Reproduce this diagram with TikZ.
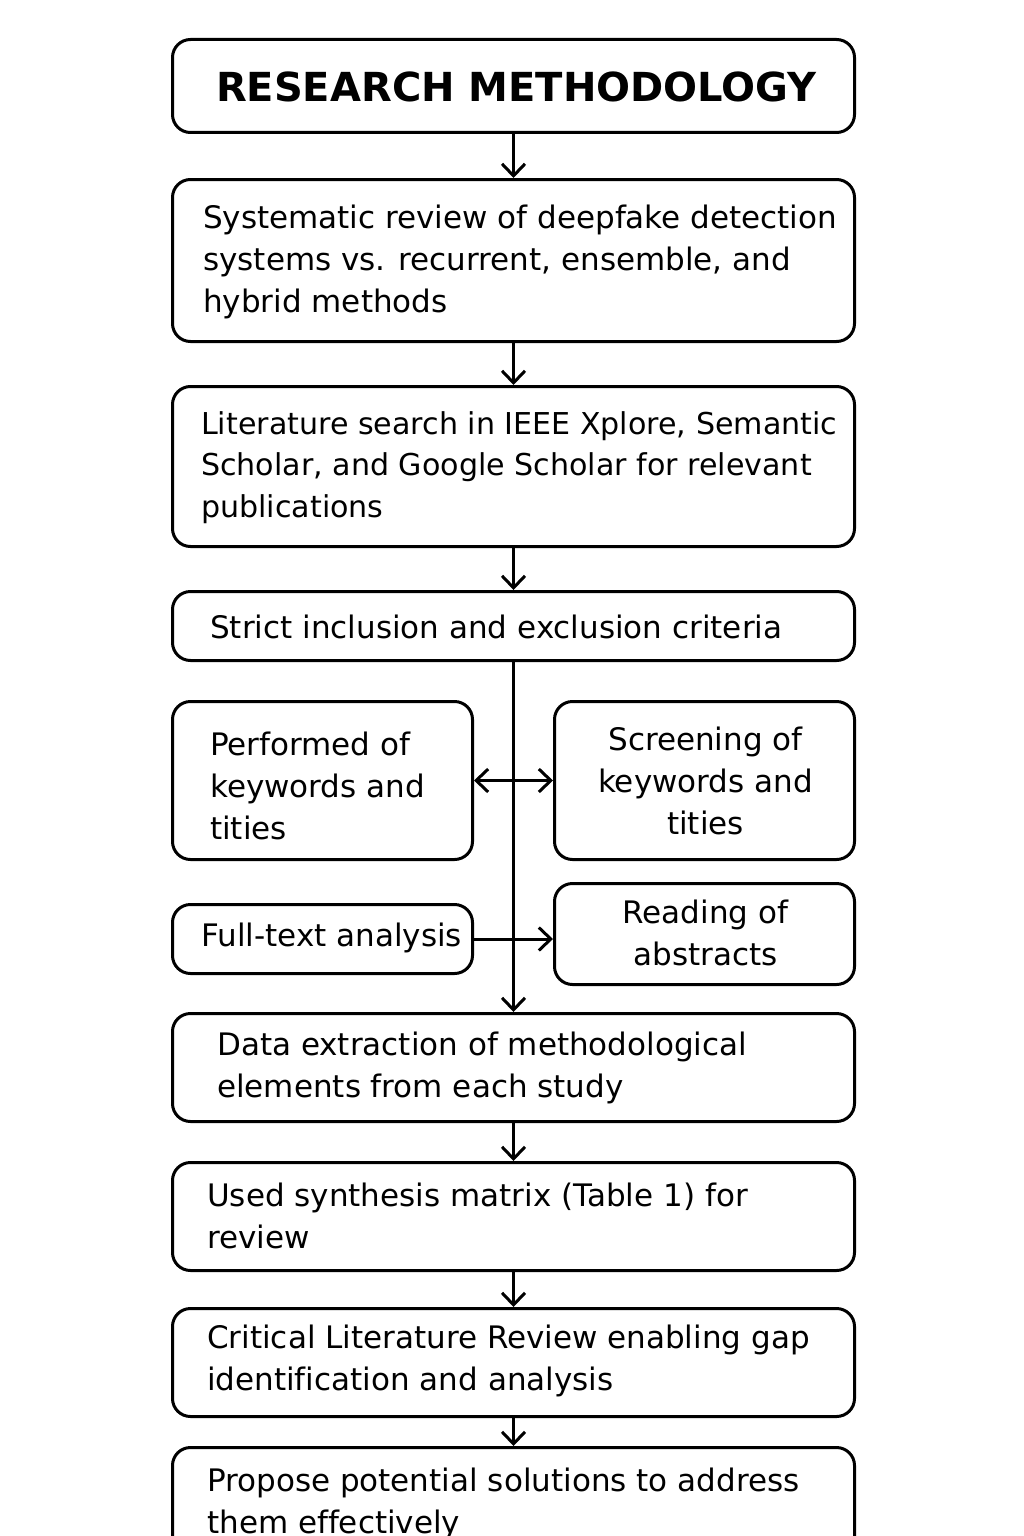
\documentclass[tikz,border=0pt]{standalone}
\usepackage{fontspec}
\setmainfont{DejaVu Sans}[Ligatures=NoCommon]
\usetikzlibrary{arrows.meta}
\begin{document}
\begin{tikzpicture}[x=1pt,y=-1pt,
  box/.style={draw=black, line width=3pt, rounded corners=18pt, inner sep=0pt, anchor=north west},
  txt/.style={inner sep=0pt, font=\fontsize{31}{42}\selectfont, align=left, text=black},
  ctxt/.style={inner sep=0pt, font=\fontsize{31}{42}\selectfont, align=center, text=black},
  arr/.style={line width=3pt, -{Straight Barb[length=12pt,width=23pt,line width=3pt]}},
  darr/.style={line width=3pt, {Straight Barb[length=12pt,width=23pt,line width=3pt]}-{Straight Barb[length=12pt,width=23pt,line width=3pt]}}
]
\useasboundingbox (0,0) rectangle (1024,1536);
\clip (0,0) rectangle (1024,1536);
\fill[white] (0,0) rectangle (1024,1536);

% boxes
\node[box, minimum width=682pt, minimum height=93pt] (b1) at (171,38) {};
\node[box, minimum width=682pt, minimum height=162pt] (b2) at (171,178) {};
\node[box, minimum width=682pt, minimum height=160pt] (b3) at (171,385) {};
\node[box, minimum width=682pt, minimum height=69pt] (b4) at (171,590) {};
\node[box, minimum width=300pt, minimum height=158pt] (b5) at (171,700) {};
\node[box, minimum width=300pt, minimum height=158pt] (b6) at (553,700) {};
\node[box, minimum width=300pt, minimum height=69pt] (b7) at (171,903) {};
\node[box, minimum width=300pt, minimum height=101pt] (b8) at (553,882) {};
\node[box, minimum width=682pt, minimum height=108pt] (b9) at (171,1012) {};
\node[box, minimum width=682pt, minimum height=108pt] (b10) at (171,1161) {};
\node[box, minimum width=682pt, minimum height=108pt] (b11) at (171,1307) {};
\node[box, minimum width=682pt, minimum height=110pt] (b12) at (171,1446) {};

% texts
\node[inner sep=0pt, font=\fontsize{40}{48}\bfseries\selectfont] (t1) at ([xshift=3pt,yshift=-1pt]b1.center) {RESEARCH METHODOLOGY};
\node[txt, anchor=west] (t2) at ([xshift=32pt,yshift=-1pt]b2.west) {Systematic review of deepfake detection\\systems vs. recurrent, ensemble, and\\hybrid methods};
\node[txt, anchor=west, font=\fontsize{30.1}{41.5}\selectfont] (t3) at ([xshift=30pt,yshift=-1pt]b3.west) {Literature search in IEEE Xplore, Semantic\\Scholar, and Google Scholar for relevant\\publications};
\node[txt, anchor=west] (t4) at ([xshift=39pt,yshift=-1pt]b4.west) {Strict inclusion and exclusion criteria};
\node[txt, anchor=west] (t5) at ([xshift=39pt,yshift=-5pt]b5.west) {Performed of\\keywords and\\tities};
\node[ctxt] (t6) at ([xshift=1pt]b6.center) {Screening of\\keywords and\\tities};
\node[txt, anchor=west] (t7) at ([xshift=30pt,yshift=1pt]b7.west) {Full-text analysis};
\node[ctxt] (t8) at ([xshift=1pt,yshift=1pt]b8.center) {Reading of\\abstracts};
\node[txt, anchor=west] (t9) at ([xshift=46pt]b9.west) {Data extraction of methodological\\elements from each study};
\node[txt, anchor=west] (t10) at ([xshift=36pt,yshift=1pt]b10.west) {Used synthesis matrix (Table 1) for\\review};
\node[txt, anchor=west] (t11) at ([xshift=36pt,yshift=2pt]b11.west) {Critical Literature Review enabling gap\\identification and analysis};
\node[txt, anchor=west] (t12) at ([xshift=36pt,yshift=-1pt]b12.west) {Propose potential solutions to address\\them effectively};

% connectors
\draw[arr] (b1.south) -- (b2.north);
\draw[arr] (b2.south) -- (b3.north);
\draw[arr] (b3.south) -- (b4.north);
\draw[arr] (b4.south) -- (b9.north);
\draw[darr] (b5.east) -- (b6.west);
\draw[arr] (b7.east) -- (b7.east -| b8.west);
\draw[arr] (b9.south) -- (b10.north);
\draw[arr] (b10.south) -- (b11.north);
\draw[arr] (b11.south) -- (b12.north);
\end{tikzpicture}
\end{document}
